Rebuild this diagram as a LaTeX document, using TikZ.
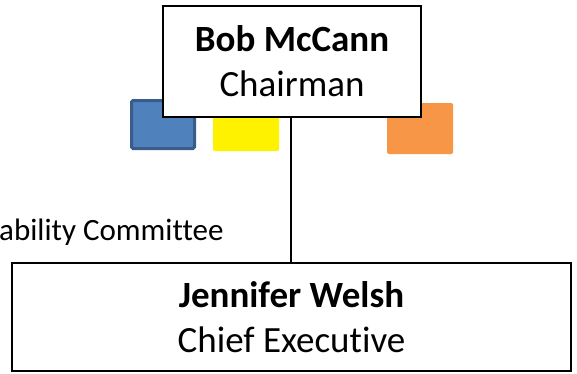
\documentclass[tikz,border=0pt]{standalone}
\usepackage{fontspec}
\setmainfont[Ligatures=CommonOff]{Carlito}
\begin{document}
\begin{tikzpicture}[x=1pt,y=-1pt,
  box/.style={draw=black, line width=1.3pt, fill=white, inner sep=0pt, align=center},
  sq/.style={rounded corners=1.5pt, inner sep=0pt}]
\useasboundingbox (0,0) rectangle (577,373);
% coloured squares
\fill[sq, fill={rgb,255:red,79;green,129;blue,189}, draw={rgb,255:red,56;green,93;blue,138}, line width=3pt] (131.5,100.5) rectangle (194.5,148.5);
\fill[sq, fill=yellow] (213,104) rectangle (279,151);
\fill[sq, fill={rgb,255:red,247;green,150;blue,70}] (387,103) rectangle (453,154);
% boxes
\node[box, minimum width=258pt, minimum height=111pt, font=\fontsize{37}{45}\selectfont] (chair) at (292,61.5) {\textbf{Bob McCann}\\Chairman};
\node[box, minimum width=559pt, minimum height=108pt, font=\fontsize{37}{45}\selectfont] (ceo) at (291.5,317) {\textbf{Jennifer Welsh}\\Chief Executive};
\coordinate (top) at (291,117);
\draw[line width=1.3pt] (chair.south -| top) -- (ceo.north -| top);
\node[anchor=base west, inner sep=0pt, font=\fontsize{31}{35}\selectfont] (comm) at (-1,240) {ability Committee};
\end{tikzpicture}
\end{document}
